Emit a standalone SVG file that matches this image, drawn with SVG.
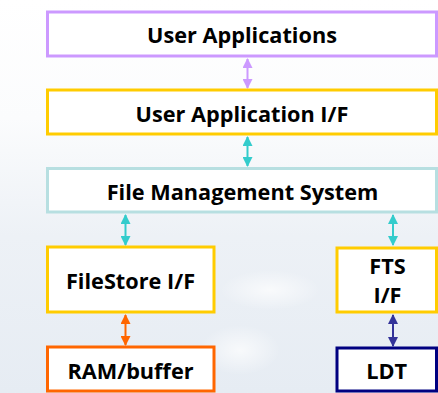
<svg xmlns="http://www.w3.org/2000/svg" width="438" height="393" viewBox="0 0 438 393">
  <style>
    .box { fill: #FFFFFF; stroke-width: 3; }
    .lbl { font-family: "Open Sans", "Liberation Sans", sans-serif; font-weight: bold; font-size: 21.7px; fill: #000000; text-anchor: middle; }
    .wire { stroke-width: 2; fill: none; }
  </style>
  <defs>
    <linearGradient id="bg" x1="0" y1="0" x2="0" y2="1">
      <stop offset="0" stop-color="#FFFFFF"/>
      <stop offset="0.3" stop-color="#FBFCFD"/>
      <stop offset="0.6" stop-color="#EDF1F6"/>
      <stop offset="1" stop-color="#E6ECF3"/>
    </linearGradient>
    <radialGradient id="haze" cx="0.5" cy="0.5" r="0.5">
      <stop offset="0" stop-color="#FFFFFF" stop-opacity="0.7"/>
      <stop offset="1" stop-color="#FFFFFF" stop-opacity="0"/>
    </radialGradient>
    <marker id="hPurple" viewBox="0 0 10 10" refX="9" refY="5" markerWidth="5" markerHeight="5" orient="auto-start-reverse" markerUnits="strokeWidth">
      <path d="M0,0 L10,5 L0,10 z" fill="#CC99FF"/>
    </marker>
    <marker id="hTeal" viewBox="0 0 10 10" refX="9" refY="5" markerWidth="5" markerHeight="5" orient="auto-start-reverse" markerUnits="strokeWidth">
      <path d="M0,0 L10,5 L0,10 z" fill="#33CCCC"/>
    </marker>
    <marker id="hOrange" viewBox="0 0 10 10" refX="9" refY="5" markerWidth="5" markerHeight="5" orient="auto-start-reverse" markerUnits="strokeWidth">
      <path d="M0,0 L10,5 L0,10 z" fill="#FF6600"/>
    </marker>
    <marker id="hNavy" viewBox="0 0 10 10" refX="9" refY="5" markerWidth="5" markerHeight="5" orient="auto-start-reverse" markerUnits="strokeWidth">
      <path d="M0,0 L10,5 L0,10 z" fill="#333399"/>
    </marker>
  </defs>

  <!-- faint backdrop -->
  <rect x="0" y="0" width="438" height="393" fill="url(#bg)"/>
  <ellipse cx="270" cy="290" rx="50" ry="20" fill="url(#haze)"/>
  <ellipse cx="240" cy="350" rx="40" ry="25" fill="url(#haze)"/>

  <!-- connectors -->
  <g id="connectors">
    <line class="wire" x1="247.5" y1="59" x2="247.5" y2="88" stroke="#CC99FF" marker-start="url(#hPurple)" marker-end="url(#hPurple)"/>
    <line class="wire" x1="247.5" y1="137" x2="247.5" y2="166" stroke="#33CCCC" marker-start="url(#hTeal)" marker-end="url(#hTeal)"/>
    <line class="wire" x1="125.5" y1="215" x2="125.5" y2="245" stroke="#33CCCC" marker-start="url(#hTeal)" marker-end="url(#hTeal)"/>
    <line class="wire" x1="393" y1="215" x2="393" y2="245" stroke="#33CCCC" marker-start="url(#hTeal)" marker-end="url(#hTeal)"/>
    <line class="wire" x1="125.5" y1="315" x2="125.5" y2="345" stroke="#FF6600" marker-start="url(#hOrange)" marker-end="url(#hOrange)"/>
    <line class="wire" x1="393" y1="315" x2="393" y2="346" stroke="#333399" marker-start="url(#hNavy)" marker-end="url(#hNavy)"/>
  </g>

  <g id="user-applications">
    <rect class="box" x="47.5" y="12" width="389" height="44" stroke="#CC99FF"/>
    <text class="lbl" x="242" y="42.5">User Applications</text>
  </g>

  <g id="user-application-if">
    <rect class="box" x="47.5" y="90" width="389" height="44" stroke="#FFCC00"/>
    <text class="lbl" x="242" y="121.5">User Application I/F</text>
  </g>

  <g id="file-management-system">
    <rect class="box" x="47.5" y="168.5" width="389" height="43.5" stroke="#B7DFE1"/>
    <text class="lbl" x="242.5" y="199.5">File Management System</text>
  </g>

  <g id="filestore-if">
    <rect class="box" x="47.5" y="247" width="166.5" height="65" stroke="#FFCC00"/>
    <text class="lbl" x="130.5" y="288.5">FileStore I/F</text>
  </g>

  <g id="fts-if">
    <rect class="box" x="337" y="248" width="99.5" height="64" stroke="#FFCC00"/>
    <text class="lbl" x="387.5" y="273.5">FTS</text>
    <text class="lbl" x="387.5" y="302.5">I/F</text>
  </g>

  <g id="ram-buffer">
    <rect class="box" x="47.5" y="347" width="166.5" height="44" stroke="#FF6600"/>
    <text class="lbl" x="130.5" y="379">RAM/buffer</text>
  </g>

  <g id="ldt">
    <rect class="box" x="337" y="348" width="99.5" height="43" stroke="#000080"/>
    <text class="lbl" x="386.7" y="379">LDT</text>
  </g>
</svg>
